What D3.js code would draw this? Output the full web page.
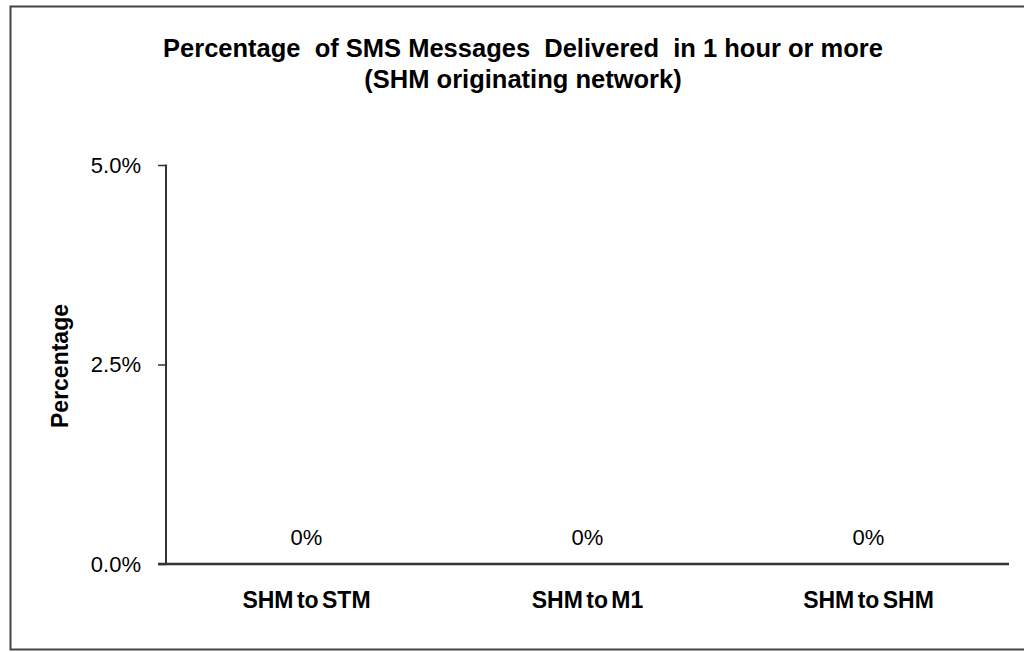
<!DOCTYPE html>
<html>
<head>
<meta charset="utf-8">
<script src="https://cdn.jsdelivr.net/npm/d3@7"></script>
<style>
  body { margin: 0; background: #fff; }
  svg { display: block; }
  text { font-family: "Liberation Sans", Arial, sans-serif; fill: #000; }
</style>
</head>
<body>
<div id="chart"></div>
<script>
// data
const categories = ["SHM to STM", "SHM to M1", "SHM to SHM"];
const values = [0, 0, 0];
const yTicks = [0, 0.025, 0.05];
const titleLines = ["Percentage  of SMS Messages  Delivered  in 1 hour or more", "(SHM originating network)"];

const W = 1024, H = 652;
const m = { top: 165, left: 166 };
const w = 1009 - m.left;
const h = 564 - m.top;

const svg = d3.select("#chart").append("svg")
    .attr("width", W).attr("height", H);

// outer frame
svg.append("rect")
    .attr("x", 10.5).attr("y", 6.5)
    .attr("width", 1030).attr("height", 643)
    .attr("fill", "none").attr("stroke", "#444").attr("stroke-width", 2);

// title
svg.selectAll(".title").data(titleLines).enter().append("text")
    .attr("class", "title")
    .attr("x", 523)
    .attr("y", (d, i) => 57 + i * 31)
    .attr("text-anchor", "middle")
    .style("white-space", "pre")
    .style("font-size", "25.5px").style("font-weight", "bold")
    .attr("fill", "#111")
    .text(d => d);

const g = svg.append("g").attr("transform", `translate(${m.left},${m.top})`);

const x = d3.scaleBand().domain(categories).range([0, w]).paddingInner(0.4).paddingOuter(0.2);
const y = d3.scaleLinear().domain([0, 0.05]).range([h, 0]);

// bars (zero height)
g.selectAll(".bar").data(values).enter().append("rect")
    .attr("x", (d, i) => x(categories[i]))
    .attr("y", d => y(d))
    .attr("width", x.bandwidth())
    .attr("height", d => h - y(d))
    .attr("fill", "#4f81bd");

// value labels
g.selectAll(".val").data(values).enter().append("text")
    .attr("x", (d, i) => x(categories[i]) + x.bandwidth() / 2)
    .attr("y", d => y(d) - 19)
    .attr("text-anchor", "middle")
    .style("font-size", "22px")
    .attr("fill", "#222")
    .text(d => d3.format(".0%")(d));

// y axis
const yAxis = g.append("g")
    .call(d3.axisLeft(y).tickValues(yTicks).tickFormat(d3.format(".1%")).tickSize(8).tickPadding(17));
yAxis.select(".domain").attr("stroke", "#333").attr("stroke-width", 2).attr("d", `M0,-0.5V${h}`);
yAxis.selectAll(".tick line").attr("stroke", "#333").attr("stroke-width", 1.5);
yAxis.selectAll(".tick text").style("font-size", "22px")
    .style("font-family", "'Liberation Sans', Arial, sans-serif").attr("fill", "#222");

// x axis
const xAxis = g.append("g").attr("transform", `translate(0,${h})`)
    .call(d3.axisBottom(x).tickSize(0).tickPadding(28));
xAxis.select(".domain").attr("stroke", "#333").attr("stroke-width", 2.5).attr("d", `M-8,0H${w}`);
xAxis.selectAll(".tick text").style("font-size", "23px").style("font-weight", "bold")
    .style("word-spacing", "-3px")
    .style("font-family", "'Liberation Sans', Arial, sans-serif").attr("fill", "#111");

// y label
svg.append("text")
    .attr("transform", "rotate(-90)")
    .attr("x", -366).attr("y", 68)
    .attr("text-anchor", "middle")
    .style("font-size", "23px").style("font-weight", "bold")
    .attr("fill", "#111")
    .text("Percentage");
</script>
</body>
</html>
